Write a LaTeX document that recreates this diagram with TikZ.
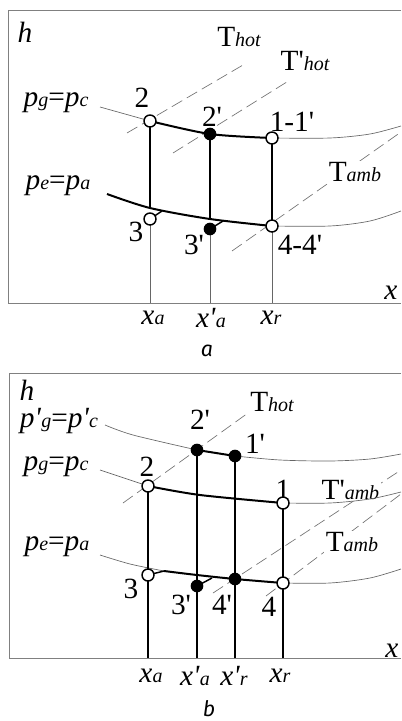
\documentclass[tikz,border=0pt]{standalone}
\usepackage{fontspec}
\newfontfamily\serif{Liberation Serif}
\newfontfamily\capfont{Fira Sans}
\newcommand\bigf{\serif\fontsize{22}{26}\selectfont}
\newcommand\smf{\fontsize{15}{17}\selectfont}
\newcommand\subtxt[1]{{\smf\itshape #1}}
\begin{document}
\begin{tikzpicture}[x=0.75pt,y=-0.75pt,
  lbl/.style={inner sep=0pt,font=\bigf},
  wlbl/.style={inner sep=1pt,fill=white,font=\bigf},
  captxt/.style={inner sep=0pt,font=\capfont\itshape\fontsize{16}{18}\selectfont},
  thn/.style={draw=black!60, line width=0.5pt},
  thk/.style={draw=black, line width=1.5pt},
  hook/.style={draw=black, line width=1.1pt},
  dsh/.style={draw=black!55, line width=0.5pt, dash pattern=on 9pt off 4pt},
  frame/.style={draw=black!50, line width=0.7pt},
  opn/.style={circle, draw=black, line width=1.1pt, fill=white, inner sep=0pt, minimum size=9pt},
  fld/.style={circle, fill=black, inner sep=0pt, minimum size=9.5pt},
]
\useasboundingbox (0,0) rectangle (401,721);
\clip (0,0) rectangle (401,721);

% ================= panel a =================
\coordinate (aga) at (100,107);
\coordinate (a2) at (150,121);
\coordinate (a2p) at (210,134);
\coordinate (a11) at (272,138);
\coordinate (agr) at (401,126);
\coordinate (aea) at (107,194);
\coordinate (ab2) at (150,208);
\coordinate (ab2p) at (210,219);
\coordinate (a44) at (272,226);
\coordinate (aer) at (401,211);
\coordinate (a3) at (150,219);
\coordinate (ah3) at (162,211);
\coordinate (a3p) at (210,229);
\coordinate (ah3p) at (223,221);
\coordinate (axa) at (150,303);
\coordinate (axap) at (210,303);
\coordinate (axr) at (272,303);
\coordinate (athA) at (127,133);
\coordinate (athB) at (243,65);
\coordinate (athpA) at (173,153);
\coordinate (athpB) at (290,80);
\coordinate (aamA) at (232,251);
\coordinate (aamB) at (401,132);

\draw[frame] (401,10) -- (8,10) -- (8,303) -- (401,303);
\draw[dsh] (athA) -- (athB);
\draw[dsh] (athpA) -- (athpB);
\draw[dsh] (aamA) -- (aamB);

\node[lbl] (ah) at (25,32) {\textit{h}};
\node[lbl] (aThot) at (239,37) {T\subtxt{hot}};
\node[lbl] (aTphot) at (305,61) {T'\subtxt{hot}};
\node[lbl] (apg) at (56,103) {\textit{p}\subtxt{g}=\textit{p}\subtxt{c}};
\node[lbl] (al2) at (142,98) {2};
\node[lbl] (al2p) at (212,117) {2'};
\node[lbl] (al11) at (292,122) {1-1'};
\node[wlbl] (aTamb) at (355,172) {T\subtxt{amb}};
\node[lbl] (ape) at (58,186) {\textit{p}\subtxt{e}=\textit{p}\subtxt{a}};
\node[lbl] (al3) at (136,232) {3};
\node[lbl] (al3p) at (194,245) {3'};
\node[lbl] (al44) at (300,245) {4-4'};
\node[lbl] (axl) at (391,293) {\textit{x}};
\node[lbl] (axal) at (153,318) {\textit{x}\subtxt{a}};
\node[lbl] (axapl) at (211,318) {\textit{x'}\subtxt{a}};
\node[lbl] (axrl) at (271,318) {\textit{x}\subtxt{r}};
\node[captxt] (acap) at (207,351) {a};

\draw[thn] (aga) -- (a2);
\draw[thn] plot[smooth] coordinates {(a11) (330,138) (370,134) (agr)};
\draw[thn] plot[smooth] coordinates {(a44) (330,226) (370,221) (aer)};
\draw[thk] plot[smooth] coordinates {(a2) (a2p) (a11)};
\draw[thk] plot[smooth] coordinates {(aea) (ab2) (ab2p) (a44)};
\draw[thk] (a2) -- (ab2);
\draw[thk] (a2p) -- (ab2p);
\draw[thk] (a11) -- (a44);
\draw[thn] (a3) -- (axa);
\draw[thn] (a3p) -- (axap);
\draw[thn] (a44) -- (axr);
\draw[hook] (a3) -- (ah3);
\draw[hook] (a3p) -- (ah3p);

\node[opn] (pa2) at (a2) {};
\node[fld] (pa2p) at (a2p) {};
\node[opn] (pa11) at (a11) {};
\node[opn] (pa3) at (a3) {};
\node[fld] (pa3p) at (a3p) {};
\node[opn] (pa44) at (a44) {};

% ================= panel b =================
\coordinate (bgpa) at (105,425);
\coordinate (bgpm) at (133,435);
\coordinate (b2p) at (197,450);
\coordinate (b1p) at (235,456);
\coordinate (bgpr) at (401,454);
\coordinate (bga) at (100,470);
\coordinate (b2) at (148,486);
\coordinate (b1) at (283,503);
\coordinate (bgr) at (401,492);
\coordinate (bea) at (100,555);
\coordinate (bem) at (130,564);
\coordinate (bh3) at (164,571);
\coordinate (b3) at (148,575);
\coordinate (b3p) at (197,586);
\coordinate (bh3p) at (212,578);
\coordinate (b4p) at (235,579);
\coordinate (b4) at (283,583);
\coordinate (ber) at (401,569);
\coordinate (bxa) at (148,658);
\coordinate (bxap) at (197,658);
\coordinate (bxrp) at (235,658);
\coordinate (bxr) at (283,658);
\coordinate (bthA) at (123,503);
\coordinate (bthB) at (248,413);
\coordinate (bapA) at (213,593);
\coordinate (bapB) at (401,470);
\coordinate (bamA) at (266,596);
\coordinate (bamB) at (401,494);

\draw[frame] (401,373) -- (9,373) -- (9,658) -- (401,658);
\draw[dsh] (bthA) -- (bthB);
\draw[dsh] (bapA) -- (bapB);
\draw[dsh] (bamA) -- (bamB);

\node[lbl] (bh) at (27,390) {\textit{h}};
\node[lbl] (bpgp) at (59,421) {\textit{p'}\subtxt{g}=\textit{p'}\subtxt{c}};
\node[lbl] (bThot) at (272,402) {T\subtxt{hot}};
\node[lbl] (bl2p) at (200,420) {2'};
\node[lbl] (bl1p) at (255,444) {1'};
\node[lbl] (bpg) at (56,467) {\textit{p}\subtxt{g}=\textit{p}\subtxt{c}};
\node[lbl] (bl2) at (147,467) {2};
\node[lbl] (bl1) at (283,490) {1};
\node[wlbl, anchor=west] (bTpamb) at (320,490) {T'\subtxt{amb}};
\node[wlbl] (bTamb) at (352,542) {T\subtxt{amb}};
\node[lbl] (bpe) at (57,547) {\textit{p}\subtxt{e}=\textit{p}\subtxt{a}};
\node[lbl] (bl3) at (131,589) {3};
\node[lbl] (bl3p) at (181,605) {3'};
\node[lbl] (bl4p) at (222,605) {4'};
\node[lbl] (bl4) at (269,607) {4};
\node[lbl] (bxl) at (392,651) {\textit{x}};
\node[lbl] (bxal) at (151,676) {\textit{x}\subtxt{a}};
\node[lbl] (bxapl) at (195,676) {\textit{x'}\subtxt{a}};
\node[lbl] (bxrpl) at (234,676) {\textit{x'}\subtxt{r}};
\node[lbl] (bxrl) at (280,676) {\textit{x}\subtxt{r}};
\node[captxt] (bcap) at (209,709) {b};

\draw[thn] plot[smooth] coordinates {(bgpa) (bgpm) (b2p)};
\draw[thn] plot[smooth] coordinates {(b1p) (280,460) (330,461) (370,459) (bgpr)};
\draw[thn] (bga) -- (b2);
\draw[thn] plot[smooth] coordinates {(b1) (330,503) (370,499) (bgr)};
\draw[thn] plot[smooth] coordinates {(bea) (bem) (bh3)};
\draw[thn] plot[smooth] coordinates {(b4) (330,583) (370,578) (ber)};
\draw[thk] (b2p) -- (b1p);
\draw[thk] plot[smooth] coordinates {(b2) (200,495) (b1)};
\draw[thk] plot[smooth] coordinates {(bh3) (197,575) (b4p) (b4)};
\draw[thk] (b2) -- (bxa);
\draw[thk] (b2p) -- (bxap);
\draw[thk] (b1p) -- (bxrp);
\draw[thk] (b1) -- (bxr);
\draw[hook] (b3) -- (bh3);
\draw[hook] (b3p) -- (bh3p);

\node[fld] (pb2p) at (b2p) {};
\node[fld] (pb1p) at (b1p) {};
\node[opn] (pb2) at (b2) {};
\node[opn] (pb1) at (b1) {};
\node[opn] (pb3) at (b3) {};
\node[fld] (pb3p) at (b3p) {};
\node[fld] (pb4p) at (b4p) {};
\node[opn] (pb4) at (b4) {};
\end{tikzpicture}
\end{document}
